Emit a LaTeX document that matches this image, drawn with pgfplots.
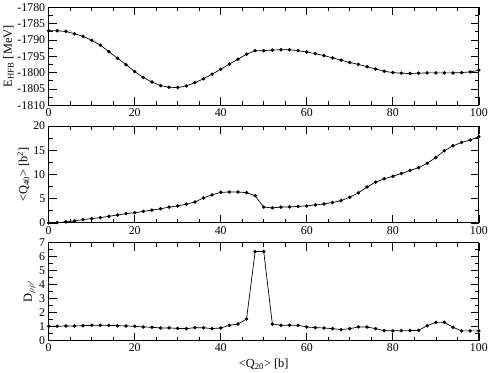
\documentclass[border=0pt]{standalone}
\usepackage{pgfplots}
\pgfplotsset{compat=1.18}
\usepackage{fontspec}
\setmainfont{Liberation Serif}

\pgfplotsset{
  panel/.style={
    scale only axis, width=435pt,
    xmin=0, xmax=100,
    xtick={0,20,...,100}, minor x tick num=3,
    tick align=inside, ticks=both,
    xtick pos=both, ytick pos=both,
    major tick length=8pt, minor tick length=4pt,
    tick style={black, line width=0.6pt},
    axis line style={line width=0.8pt},
    tick label style={font=\fontsize{12}{13}\selectfont},
    label style={font=\fontsize{12.5}{14}\selectfont},
    /pgf/number format/assume math mode=true,
    /pgf/number format/set thousands separator={},
    ylabel shift=-3pt,
  },
  curve/.style={black, line width=0.7pt, mark=*, mark size=1.4pt},
}

\begin{document}
\begin{tikzpicture}
\begin{axis}[panel, name=top, height=99pt, at={(0,0)}, anchor=north west,
  ymin=-1810, ymax=-1780, ytick={-1810,-1805,...,-1780}, minor y tick num=1,
  ylabel={E\textsubscript{HFB} [MeV]}]
\addplot[curve] coordinates {
(0,-1787.2) (2,-1787.2) (4,-1787.4) (6,-1788.1) (8,-1788.9) (10,-1790.1)
(12,-1791.6) (14,-1793.6) (16,-1795.6) (18,-1797.6) (20,-1799.7) (22,-1801.5)
(24,-1802.9) (26,-1804.0) (28,-1804.5) (30,-1804.6) (32,-1804.1) (34,-1803.1)
(36,-1801.9) (38,-1800.5) (40,-1799.0) (42,-1797.4) (44,-1795.9) (46,-1794.4)
(48,-1793.3) (50,-1793.3) (52,-1793.1) (54,-1793.0) (56,-1793.0) (58,-1793.3)
(60,-1793.7) (62,-1794.2) (64,-1794.8) (66,-1795.5) (68,-1796.2) (70,-1796.9)
(72,-1797.5) (74,-1798.2) (76,-1798.9) (78,-1799.6) (80,-1800.0) (82,-1800.2)
(84,-1800.3) (86,-1800.2) (88,-1800.1) (90,-1800.1) (92,-1800.1) (94,-1800.1)
(96,-1800.0) (98,-1799.8) (100,-1799.3)};
\end{axis}

\begin{axis}[panel, name=mid, height=98pt, at={(0,-120pt)}, anchor=north west,
  ymin=0, ymax=20, ytick={0,5,...,20}, minor y tick num=1,
  ylabel={\textless Q\textsubscript{40}\textgreater{} [b\textsuperscript{2}]}]
\addplot[curve] coordinates {
(0,0) (2,0.07) (4,0.2) (6,0.4) (8,0.68) (10,0.88) (12,1.08) (14,1.36)
(16,1.63) (18,1.9) (20,2.1) (22,2.37) (24,2.64) (26,2.9) (28,3.25) (30,3.5)
(32,3.86) (34,4.3) (36,5.15) (38,5.8) (40,6.3) (42,6.37) (44,6.37) (46,6.24)
(48,5.6) (50,3.25) (52,3.1) (54,3.25) (56,3.3) (58,3.4) (60,3.5) (62,3.7)
(64,3.9) (66,4.2) (68,4.6) (70,5.3) (72,6.2) (74,7.4) (76,8.4) (78,9.1)
(80,9.6) (82,10.2) (84,10.8) (86,11.4) (88,12.3) (90,13.5) (92,14.9)
(94,15.9) (96,16.6) (98,17.1) (100,17.8)};
\end{axis}

\begin{axis}[panel, name=bot, height=99pt, at={(0,-238pt)}, anchor=north west,
  ymin=0, ymax=7, ytick={0,1,...,7}, minor y tick num=1,
  ylabel={D$_{\rho\rho'}$},
  xlabel={\textless Q\textsubscript{20}\textgreater{} [b]}]
\addplot[curve] coordinates {
(0,1.02) (2,1.02) (4,1.04) (6,1.04) (8,1.06) (10,1.09) (12,1.09) (14,1.09)
(16,1.06) (18,1.04) (20,1.02) (22,0.97) (24,0.95) (26,0.9) (28,0.9) (30,0.87)
(32,0.85) (34,0.92) (36,0.92) (38,0.85) (40,0.9) (42,1.09) (44,1.18) (46,1.54)
(48,6.36) (50,6.36) (52,1.18) (54,1.09) (56,1.09) (58,1.09) (60,0.97)
(62,0.92) (64,0.9) (66,0.85) (68,0.78) (70,0.85) (72,0.97) (74,0.97)
(76,0.85) (78,0.71) (80,0.69) (82,0.71) (84,0.71) (86,0.73) (88,1.06)
(90,1.3) (92,1.3) (94,0.95) (96,0.69) (98,0.69) (100,0.69)};
\end{axis}
\end{tikzpicture}
\end{document}
